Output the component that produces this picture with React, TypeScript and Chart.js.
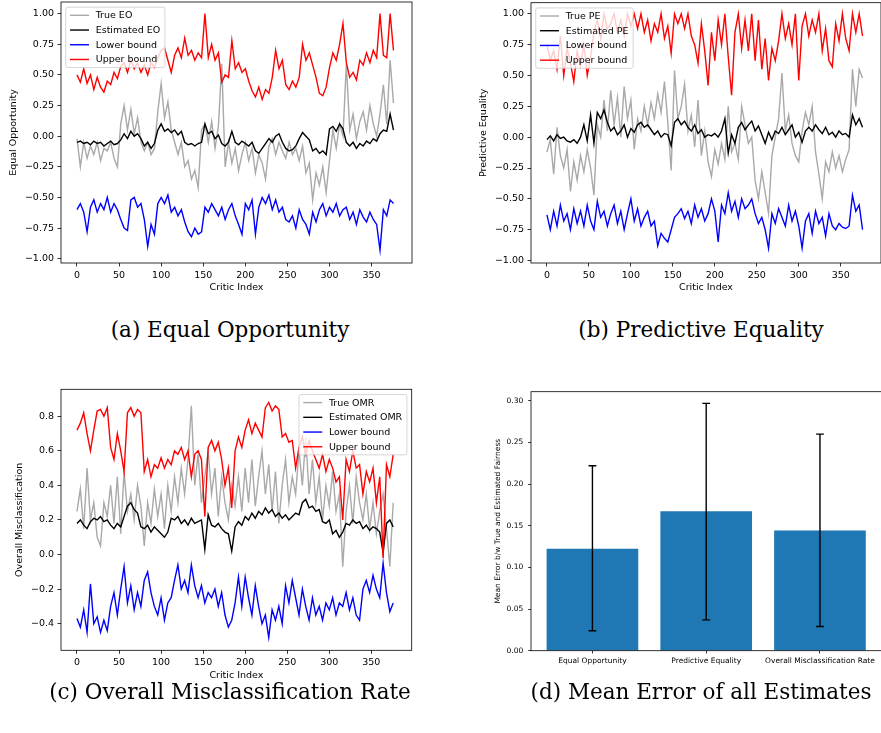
import React, { useEffect, useRef } from 'react';
import { Chart, registerables } from 'chart.js';

Chart.register(...registerables);
Chart.defaults.font.family = '"DejaVu Sans", sans-serif';

// Critic index positions (every 4th critic, 0..376)
const CRITIC_INDEX = Array.from({ length: 95 }, (_, k) => k * 4);

// ---------- (a) Equal Opportunity ----------
const EO_TRUE = [
  -0.02, -0.25, -0.05, -0.18, -0.08, -0.15, -0.05, -0.20, -0.10, -0.12,
  -0.05, -0.18, -0.25, 0.10, 0.25, 0.05, 0.22, 0.02, 0.15, -0.05,
  -0.12, -0.05, -0.15, -0.10, 0.20, 0.43, 0.15, 0.28, 0.05, -0.05,
  -0.15, -0.05, -0.25, -0.20, -0.35, -0.28, -0.42, 0.05, 0.10, -0.05,
  0.12, -0.10, 0.08, 0.59, -0.25, -0.05, -0.22, -0.10, -0.28, -0.15,
  -0.05, -0.20, -0.10, -0.30, -0.15, -0.22, -0.35, -0.08, -0.02, -0.15,
  -0.05, -0.12, -0.18, -0.05, -0.15, -0.10, -0.20, -0.08, -0.30, -0.22,
  -0.52, -0.30, -0.40, -0.25, -0.46, -0.20, 0.05, -0.10, 0.10, 0.00,
  0.59, 0.05, 0.18, -0.02, 0.12, 0.20, 0.05, 0.25, 0.10, 0.00,
  0.18, 0.42, 0.10, 0.62, 0.27,
];
const EO_EST = [
  -0.05, -0.04, -0.06, -0.05, -0.07, -0.04, -0.06, -0.05, -0.08, -0.06,
  -0.04, -0.07, -0.06, -0.03, 0.02, -0.02, 0.04, 0.00, 0.02, -0.02,
  -0.08, -0.05, -0.10, -0.06, 0.05, 0.10, 0.04, 0.06, 0.03, 0.05,
  0.01, 0.04, -0.05, -0.07, -0.06, -0.08, -0.06, -0.05, 0.10, 0.02,
  0.04, -0.02, 0.01, -0.06, -0.08, -0.05, 0.04, -0.05, -0.07, -0.04,
  -0.06, -0.08, -0.05, -0.12, -0.14, -0.10, -0.06, -0.02, -0.05, 0.00,
  0.02, -0.05, -0.10, -0.12, -0.11, -0.08, -0.02, 0.03, 0.00, -0.03,
  -0.12, -0.10, -0.14, -0.12, -0.15, 0.06, 0.08, 0.04, 0.10, 0.06,
  -0.05, -0.08, -0.05, -0.10, -0.06, -0.08, -0.04, -0.06, -0.02, -0.04,
  0.02, 0.05, 0.04, 0.18, 0.05,
];
const EO_LOWER = [
  -0.60, -0.55, -0.62, -0.78, -0.58, -0.52, -0.62, -0.55, -0.60, -0.50,
  -0.62, -0.55, -0.60, -0.68, -0.75, -0.77, -0.52, -0.50, -0.58, -0.55,
  -0.68, -0.90, -0.72, -0.80, -0.55, -0.50, -0.55, -0.48, -0.62, -0.58,
  -0.65, -0.60, -0.70, -0.78, -0.82, -0.75, -0.80, -0.78, -0.58, -0.62,
  -0.55, -0.60, -0.65, -0.58, -0.68, -0.60, -0.55, -0.65, -0.72, -0.80,
  -0.55, -0.60, -0.52, -0.80, -0.58, -0.50, -0.55, -0.48, -0.60, -0.52,
  -0.62, -0.58, -0.68, -0.70, -0.65, -0.75, -0.60, -0.68, -0.72, -0.80,
  -0.62, -0.70, -0.60, -0.55, -0.65, -0.58, -0.62, -0.55, -0.65, -0.60,
  -0.58, -0.68, -0.62, -0.72, -0.60, -0.66, -0.70, -0.62, -0.68, -0.72,
  -0.93, -0.60, -0.65, -0.52, -0.55,
];
const EO_UPPER = [
  0.50, 0.44, 0.55, 0.43, 0.50, 0.38, 0.48, 0.40, 0.36, 0.45,
  0.42, 0.52, 0.47, 0.57, 0.60, 0.52, 0.62, 0.55, 0.60, 0.52,
  0.58, 0.50, 0.60, 0.56, 0.64, 0.70, 0.72, 0.62, 0.52, 0.66,
  0.72, 0.64, 0.80, 0.66, 0.70, 0.62, 0.68, 0.64, 1.00, 0.64,
  0.75, 0.62, 0.68, 0.44, 0.50, 0.48, 0.78, 0.55, 0.60, 0.52,
  0.55, 0.45, 0.37, 0.32, 0.40, 0.30, 0.38, 0.35, 0.48, 0.70,
  0.55, 0.62, 0.42, 0.38, 0.45, 0.40, 0.48, 0.75, 0.62, 0.68,
  0.58, 0.48, 0.35, 0.33, 0.40, 0.56, 0.68, 0.62, 0.75, 0.92,
  0.60, 0.48, 0.52, 0.46, 0.62, 0.58, 0.68, 0.60, 0.70, 0.64,
  1.00, 0.66, 0.64, 1.00, 0.70,
];

// ---------- (b) Predictive Equality ----------
const PE_TRUE = [
  -0.12, -0.02, -0.30, 0.08, -0.15, -0.25, -0.10, -0.44, -0.20, -0.35,
  -0.15, -0.28, -0.10, -0.25, -0.47, 0.10, 0.00, 0.30, 0.05, 0.38,
  0.10, 0.32, 0.00, 0.41, 0.15, 0.30, -0.10, 0.15, 0.05, 0.25,
  0.10, 0.28, 0.15, 0.35, 0.20, 0.45, 0.12, -0.27, 0.54, 0.15,
  0.25, 0.43, 0.05, 0.18, -0.08, 0.30, -0.15, 0.05, -0.20, -0.32,
  -0.10, -0.22, -0.05, -0.18, 0.25, -0.12, -0.05, -0.18, 0.25, 0.10,
  -0.05, 0.00, -0.35, -0.50, -0.28, -0.45, -0.62, -0.15, 0.00, 0.15,
  0.52, 0.05, 0.18, -0.05, -0.15, -0.20, 0.05, 0.20, 0.10, 0.25,
  -0.12, -0.30, -0.50, -0.20, -0.28, -0.12, -0.25, -0.15, -0.28, -0.18,
  -0.10, 0.55, 0.25, 0.55, 0.48,
];
const PE_EST = [
  -0.02, 0.01, -0.03, 0.02, -0.01, 0.00, -0.03, -0.04, -0.02, -0.05,
  0.00, 0.10, -0.03, 0.18, -0.05, 0.20, 0.15, 0.22, 0.12, 0.05,
  0.08, 0.02, 0.05, 0.10, 0.00, 0.07, 0.04, 0.10, 0.12, 0.08,
  0.10, 0.06, 0.02, 0.05, 0.00, 0.03, 0.02, -0.07, 0.12, 0.15,
  0.10, 0.13, 0.08, 0.05, 0.10, 0.03, 0.06, 0.00, 0.02, 0.01,
  0.03, 0.00, 0.05, 0.15, -0.13, 0.02, -0.05, 0.08, 0.12, 0.06,
  0.10, 0.13, 0.05, 0.09, 0.02, -0.05, 0.04, -0.02, 0.05, 0.03,
  0.08, 0.02, 0.06, 0.10, 0.00, 0.04, -0.04, 0.05, 0.08, 0.05,
  0.10, 0.06, 0.03, 0.08, 0.02, 0.04, 0.00, 0.05, 0.02, 0.03,
  0.00, 0.18, 0.10, 0.15, 0.08,
];
const PE_LOWER = [
  -0.63, -0.75, -0.60, -0.72, -0.55, -0.68, -0.62, -0.75, -0.58, -0.70,
  -0.60, -0.72, -0.55, -0.68, -0.75, -0.52, -0.65, -0.60, -0.72, -0.62,
  -0.55, -0.70, -0.60, -0.75, -0.62, -0.50, -0.68, -0.58, -0.72, -0.65,
  -0.60, -0.72, -0.68, -0.88, -0.78, -0.82, -0.85, -0.75, -0.65, -0.62,
  -0.58, -0.66, -0.60, -0.70, -0.55, -0.65, -0.58, -0.68, -0.62, -0.50,
  -0.60, -0.85, -0.55, -0.62, -0.45, -0.60, -0.52, -0.65, -0.50, -0.58,
  -0.55, -0.50, -0.62, -0.70, -0.65, -0.75, -0.90, -0.62, -0.70, -0.58,
  -0.65, -0.72, -0.55, -0.68, -0.60, -0.72, -0.90, -0.68, -0.62, -0.78,
  -0.60, -0.70, -0.65, -0.80, -0.62, -0.72, -0.75, -0.70, -0.73, -0.74,
  -0.72, -0.47, -0.60, -0.55, -0.75,
];
const PE_UPPER = [
  0.75, 0.62, 0.70, 0.55, 0.82, 0.50, 0.72, 0.60, 0.45, 0.70,
  0.58, 0.75, 0.50, 0.65, 0.85, 0.95, 0.80, 1.00, 0.88, 0.92,
  1.00, 0.85, 0.95, 0.82, 1.00, 0.90, 1.00, 0.88, 1.00, 0.85,
  0.95, 0.78, 0.92, 0.85, 1.00, 0.80, 0.90, 0.68, 1.00, 0.92,
  1.00, 0.88, 1.00, 0.82, 0.75, 0.60, 0.92, 0.70, 0.42, 0.85,
  0.62, 0.95, 0.75, 1.00, 0.65, 0.34, 0.85, 1.00, 0.72, 0.95,
  0.70, 1.00, 0.62, 0.95, 0.55, 0.80, 0.46, 0.72, 0.62, 0.78,
  1.00, 0.80, 0.92, 0.75, 1.00, 0.46, 0.90, 1.00, 0.82, 0.95,
  0.85, 1.00, 0.70, 0.88, 0.62, 0.57, 0.92, 0.78, 1.00, 0.80,
  0.70, 1.00, 0.85, 1.00, 0.82,
];

// ---------- (c) Overall Misclassification Rate ----------
const OMR_TRUE = [
  0.25, 0.38, 0.15, 0.50, 0.20, 0.30, 0.10, 0.05, 0.30, 0.22,
  0.40, 0.18, 0.45, 0.12, 0.48, 0.25, 0.35, 0.20, 0.40, 0.28,
  0.05, 0.30, 0.18, 0.38, 0.22, 0.35, 0.15, 0.40, 0.25, 0.45,
  0.30, 0.50, 0.35, 0.55, 0.86, 0.40, 0.58, 0.30, 0.45, 0.60,
  0.35, 0.50, 0.22, 0.45, 0.30, 0.20, 0.40, 0.28, 0.45, 0.25,
  0.50, 0.30, 0.55, 0.28, 0.45, 0.60, 0.35, 0.52, 0.25, 0.48,
  0.18, 0.40, 0.55, 0.30, 0.45, 0.35, 0.60, 0.40, 0.68, 0.35,
  0.55, 0.30, 0.45, 0.20, 0.40, 0.28, 0.48, 0.25, 0.35, -0.07,
  0.25, 0.40, 0.18, 0.45, 0.30, 0.20, 0.35, 0.15, 0.30, 0.12,
  0.25, 0.35, 0.15, -0.07, 0.30,
];
const OMR_EST = [
  0.18, 0.20, 0.17, 0.15, 0.19, 0.21, 0.20, 0.22, 0.19, 0.20,
  0.17, 0.15, 0.18, 0.16, 0.22, 0.28, 0.30, 0.26, 0.24, 0.16,
  0.15, 0.17, 0.13, 0.16, 0.14, 0.12, 0.10, 0.13, 0.21, 0.20,
  0.22, 0.18, 0.20, 0.17, 0.21, 0.18, 0.19, 0.20, 0.03, 0.23,
  0.17, 0.16, 0.18, 0.15, 0.13, 0.12, 0.02, 0.16, 0.19, 0.17,
  0.22, 0.20, 0.24, 0.21, 0.25, 0.23, 0.27, 0.24, 0.26, 0.22,
  0.24, 0.21, 0.23, 0.20, 0.22, 0.24, 0.23, 0.30, 0.32, 0.27,
  0.28, 0.25, 0.26, 0.19, 0.18, 0.20, 0.12, 0.14, 0.10, 0.13,
  0.18, 0.17, 0.20, 0.18, 0.19, 0.15, 0.17, 0.14, 0.16, 0.15,
  0.13, 0.01, 0.18, 0.20, 0.16,
];
const OMR_LOWER = [
  -0.37, -0.42, -0.32, -0.45, -0.17, -0.40, -0.36, -0.45, -0.38, -0.44,
  -0.30, -0.22, -0.35, -0.20, -0.07, -0.28, -0.18, -0.32, -0.22, -0.30,
  -0.15, -0.10, -0.22, -0.30, -0.35, -0.25, -0.38, -0.28, -0.25, -0.15,
  -0.06, -0.20, -0.15, -0.22, -0.06, -0.18, -0.25, -0.18, -0.28, -0.22,
  -0.25, -0.20, -0.30, -0.22, -0.35, -0.42, -0.38, -0.28, -0.13, -0.30,
  -0.13, -0.25, -0.35, -0.18, -0.30, -0.40, -0.35, -0.48, -0.32, -0.38,
  -0.30, -0.40, -0.18, -0.28, -0.15, -0.25, -0.35, -0.20, -0.30, -0.38,
  -0.25, -0.35, -0.30, -0.38, -0.28, -0.32, -0.25, -0.35, -0.28, -0.30,
  -0.22, -0.32, -0.25, -0.35, -0.38, -0.20, -0.15, -0.22, -0.12, -0.20,
  -0.25, -0.05, -0.22, -0.33, -0.28,
];
const OMR_UPPER = [
  0.72, 0.76, 0.82, 0.70, 0.60, 0.72, 0.83, 0.84, 0.80, 0.85,
  0.62, 0.55, 0.70, 0.60, 0.48, 0.82, 0.85, 0.80, 0.84, 0.82,
  0.48, 0.55, 0.45, 0.52, 0.50, 0.56, 0.50, 0.55, 0.52, 0.60,
  0.58, 0.62, 0.55, 0.60, 0.45, 0.58, 0.60, 0.55, 0.22, 0.62,
  0.66, 0.60, 0.65, 0.55, 0.40, 0.50, 0.27, 0.60, 0.68, 0.62,
  0.72, 0.78, 0.70, 0.76, 0.72, 0.68, 0.85, 0.88, 0.83, 0.86,
  0.84, 0.68, 0.70, 0.65, 0.66, 0.50, 0.62, 0.68, 0.58, 0.66,
  0.60, 0.55, 0.50, 0.58, 0.48, 0.55, 0.50, 0.42, 0.45, 0.20,
  0.55, 0.48, 0.60, 0.50, 0.52, 0.35, 0.48, 0.42, 0.50, 0.30,
  0.45, -0.02, 0.52, 0.45, 0.58,
];

// ---------- (d) Mean error of all estimates ----------
const BAR_CATEGORIES = ['Equal Opportunity', 'Predictive Equality', 'Overall Misclassification Rate'];
const BAR_MEANS = [0.122, 0.167, 0.144];
const BAR_ERR_LOW = [0.024, 0.037, 0.029];
const BAR_ERR_HIGH = [0.222, 0.297, 0.26];

// ---------- ticks ----------
const X_TICKS = [0, 50, 100, 150, 200, 250, 300, 350];
const Y_TICKS_AB = [-1, -0.75, -0.5, -0.25, 0, 0.25, 0.5, 0.75, 1];
const Y_TICKS_C = [-0.4, -0.2, 0, 0.2, 0.4, 0.6, 0.8];
const Y_TICKS_D = [0, 0.05, 0.1, 0.15, 0.2, 0.25, 0.3];

const C_TRUE = '#a9a9a9';
const C_EST = '#000000';
const C_LO = '#0000ff';
const C_HI = '#ff0000';
const FS = 9.5;

const fmt = (v: number, d: number) => (v < -1e-9 ? '\u2212' : '') + Math.abs(v).toFixed(d);

const framePlugin = {
  id: 'frame',
  afterDatasetsDraw(chart: any) {
    const { ctx, chartArea: a } = chart;
    ctx.save();
    ctx.strokeStyle = '#000';
    ctx.lineWidth = 0.8;
    ctx.strokeRect(a.left, a.top, a.right - a.left, a.bottom - a.top);
    ctx.restore();
  },
};

const legendPlugin = {
  id: 'mplLegend',
  afterDraw(chart: any, _args: any, opts: any) {
    if (!opts || !opts.items) return;
    const { ctx, chartArea } = chart;
    const fs = opts.fontSize;
    const items = opts.items as { label: string; color: string }[];
    ctx.save();
    ctx.font = `${fs}px "DejaVu Sans"`;
    const tw = Math.max(...items.map((it) => ctx.measureText(it.label).width));
    const padL = 0.45 * fs;
    const handle = 2 * fs;
    const gap = 0.7 * fs;
    const pitch = 1.55 * fs;
    const w = padL + handle + gap + tw + 0.5 * fs;
    const h = 1.7 * fs + (items.length - 1) * pitch;
    const x = opts.corner === 'right' ? chartArea.right - 0.5 * fs - w : chartArea.left + 0.5 * fs;
    const y = chartArea.top + 0.55 * fs;
    const r = 2;
    ctx.beginPath();
    ctx.moveTo(x + r, y);
    ctx.lineTo(x + w - r, y);
    ctx.quadraticCurveTo(x + w, y, x + w, y + r);
    ctx.lineTo(x + w, y + h - r);
    ctx.quadraticCurveTo(x + w, y + h, x + w - r, y + h);
    ctx.lineTo(x + r, y + h);
    ctx.quadraticCurveTo(x, y + h, x, y + h - r);
    ctx.lineTo(x, y + r);
    ctx.quadraticCurveTo(x, y, x + r, y);
    ctx.closePath();
    ctx.fillStyle = 'rgba(255,255,255,0.8)';
    ctx.fill();
    ctx.strokeStyle = '#cccccc';
    ctx.lineWidth = 0.8;
    ctx.stroke();
    ctx.textBaseline = 'middle';
    ctx.textAlign = 'left';
    items.forEach((it, i) => {
      const cy = y + 0.85 * fs + i * pitch;
      ctx.beginPath();
      ctx.strokeStyle = it.color;
      ctx.lineWidth = 1.4;
      ctx.moveTo(x + padL, cy);
      ctx.lineTo(x + padL + handle, cy);
      ctx.stroke();
      ctx.fillStyle = '#000';
      ctx.fillText(it.label, x + padL + handle + gap, cy + 0.5);
    });
    ctx.restore();
  },
};

const errorBarPlugin = {
  id: 'errBars',
  afterDatasetsDraw(chart: any) {
    const { ctx, scales } = chart;
    ctx.save();
    ctx.strokeStyle = '#000';
    ctx.lineWidth = 1.4;
    BAR_MEANS.forEach((_, i) => {
      const x = scales.x.getPixelForValue(i);
      const y1 = scales.y.getPixelForValue(BAR_ERR_LOW[i]);
      const y2 = scales.y.getPixelForValue(BAR_ERR_HIGH[i]);
      ctx.beginPath();
      ctx.moveTo(x, y1);
      ctx.lineTo(x, y2);
      ctx.moveTo(x - 3.9, y1);
      ctx.lineTo(x + 3.9, y1);
      ctx.moveTo(x - 3.9, y2);
      ctx.lineTo(x + 3.9, y2);
      ctx.stroke();
    });
    ctx.restore();
  },
};

const tickGrid = (len: number) => ({
  drawOnChartArea: false,
  drawTicks: true,
  tickLength: len,
  tickWidth: 0.8,
  color: '#000',
  offset: false,
});

type LinePanelSpec = {
  trueS: number[];
  estS: number[];
  lo: number[];
  hi: number[];
  trueLabel: string;
  estLabel: string;
  yTitle: string;
  yMin: number;
  yMax: number;
  yTicks: number[];
  yDec: number;
  corner: 'left' | 'right';
  padding: { top: number; right: number; bottom: number; left: number };
  yTitlePad: number;
};

function lineConfig(p: LinePanelSpec): any {
  const mk = (arr: number[], color: string, label: string, order: number) => ({
    label,
    data: CRITIC_INDEX.map((x, k) => ({ x, y: arr[k] })),
    borderColor: color,
    backgroundColor: color,
    borderWidth: 1.4,
    pointRadius: 0,
    tension: 0,
    fill: false,
    order,
  });
  return {
    type: 'line',
    data: {
      datasets: [
        mk(p.trueS, C_TRUE, p.trueLabel, 3),
        mk(p.estS, C_EST, p.estLabel, 2),
        mk(p.lo, C_LO, 'Lower bound', 1),
        mk(p.hi, C_HI, 'Upper bound', 0),
      ],
    },
    options: {
      animation: false,
      responsive: false,
      maintainAspectRatio: false,
      layout: { padding: p.padding },
      plugins: {
        legend: { display: false },
        tooltip: { enabled: false },
        mplLegend: {
          corner: p.corner,
          fontSize: FS,
          items: [
            { label: p.trueLabel, color: C_TRUE },
            { label: p.estLabel, color: C_EST },
            { label: 'Lower bound', color: C_LO },
            { label: 'Upper bound', color: C_HI },
          ],
        },
      },
      scales: {
        x: {
          type: 'linear',
          min: -19,
          max: 398,
          afterBuildTicks: (s: any) => {
            s.ticks = X_TICKS.map((v) => ({ value: v }));
          },
          afterFit: (s: any) => {
            s.height = 37;
            s.paddingLeft = 0;
            s.paddingRight = 0;
          },
          ticks: {
            autoSkip: false,
            maxRotation: 0,
            padding: 3.5,
            color: '#000',
            font: { size: FS },
            callback: (v: any) => String(v),
          },
          grid: tickGrid(3.5),
          border: { display: false },
          title: {
            display: true,
            text: 'Critic Index',
            color: '#000',
            font: { size: FS },
            padding: { top: 0, bottom: 6.3 },
          },
        },
        y: {
          type: 'linear',
          min: p.yMin,
          max: p.yMax,
          afterBuildTicks: (s: any) => {
            s.ticks = p.yTicks.map((v) => ({ value: v }));
          },
          afterFit: (s: any) => {
            s.width = 61;
            s.paddingTop = 0;
            s.paddingBottom = 0;
          },
          ticks: {
            autoSkip: false,
            padding: 3.5,
            color: '#000',
            font: { size: FS },
            callback: (v: any) => fmt(Number(v), p.yDec),
          },
          grid: tickGrid(3.5),
          border: { display: false },
          title: {
            display: true,
            text: p.yTitle,
            color: '#000',
            font: { size: FS },
            padding: { top: p.yTitlePad, bottom: 0 },
          },
        },
      },
    },
    plugins: [framePlugin, legendPlugin],
  };
}

function barConfig(): any {
  return {
    type: 'bar',
    data: {
      datasets: [
        {
          data: BAR_MEANS.map((m, i) => ({ x: i, y: m })),
          backgroundColor: '#1f77b4',
          borderWidth: 0,
          barThickness: 91,
        },
      ],
    },
    options: {
      animation: false,
      responsive: false,
      maintainAspectRatio: false,
      layout: { padding: { top: 21.7, right: 18.6, bottom: 0, left: 0 } },
      plugins: { legend: { display: false }, tooltip: { enabled: false } },
      scales: {
        x: {
          type: 'linear',
          min: -0.54,
          max: 2.54,
          offset: false,
          afterBuildTicks: (s: any) => {
            s.ticks = [0, 1, 2].map((v) => ({ value: v }));
          },
          afterFit: (s: any) => {
            s.height = 19.3;
            s.paddingLeft = 0;
            s.paddingRight = 0;
          },
          ticks: {
            autoSkip: false,
            maxRotation: 0,
            padding: 2.8,
            color: '#000',
            font: { size: 7.5 },
            callback: (v: any) => BAR_CATEGORIES[Number(v)] ?? '',
          },
          grid: tickGrid(2.8),
          border: { display: false },
        },
        y: {
          type: 'linear',
          min: 0,
          max: 0.311,
          afterBuildTicks: (s: any) => {
            s.ticks = Y_TICKS_D.map((v) => ({ value: v }));
          },
          afterFit: (s: any) => {
            s.width = 61;
            s.paddingTop = 0;
            s.paddingBottom = 0;
          },
          ticks: {
            autoSkip: false,
            padding: 4.9,
            color: '#000',
            font: { size: 7.5 },
            callback: (v: any) => fmt(Number(v), 2),
          },
          grid: tickGrid(2.8),
          border: { display: false },
          title: {
            display: true,
            text: 'Mean Error b/w True and Estimated Fairness',
            color: '#000',
            font: { size: 7.5 },
            padding: { top: 23.8, bottom: 0 },
          },
        },
      },
    },
    plugins: [framePlugin, errorBarPlugin],
  };
}

function ChartBox(props: { left: number; top: number; width: number; height: number; make: () => any }) {
  const ref = useRef<HTMLCanvasElement>(null);
  useEffect(() => {
    const chart = new Chart(ref.current as HTMLCanvasElement, props.make());
    return () => chart.destroy();
  }, []);
  return (
    <canvas
      ref={ref}
      width={props.width}
      height={props.height}
      style={{ position: 'absolute', left: props.left, top: props.top, width: props.width, height: props.height }}
    />
  );
}

const captionStyle = (left: number, top: number): React.CSSProperties => ({
  position: 'absolute',
  left,
  top,
  width: 460,
  textAlign: 'center',
  fontFamily: '"DejaVu Serif", serif',
  fontSize: 21.5,
  lineHeight: '21.5px',
  whiteSpace: 'nowrap',
  color: '#000',
});

export default function App() {
  return (
    <div
      style={{
        position: 'fixed',
        left: 0,
        top: 0,
        width: 881,
        height: 733,
        overflow: 'hidden',
        background: '#fff',
      }}
    >
      <ChartBox
        left={0}
        top={0}
        width={430}
        height={300}
        make={() =>
          lineConfig({
            trueS: EO_TRUE,
            estS: EO_EST,
            lo: EO_LOWER,
            hi: EO_UPPER,
            trueLabel: 'True EO',
            estLabel: 'Estimated EO',
            yTitle: 'Equal Opportunity',
            yMin: -1.035,
            yMax: 1.095,
            yTicks: Y_TICKS_AB,
            yDec: 2,
            corner: 'left',
            padding: { top: 2, right: 18, bottom: 0, left: 0 },
            yTitlePad: 8.3,
          })
        }
      />
      <ChartBox
        left={470}
        top={0}
        width={430}
        height={300}
        make={() =>
          lineConfig({
            trueS: PE_TRUE,
            estS: PE_EST,
            lo: PE_LOWER,
            hi: PE_UPPER,
            trueLabel: 'True PE',
            estLabel: 'Estimated PE',
            yTitle: 'Predictive Equality',
            yMin: -1.02,
            yMax: 1.09,
            yTicks: Y_TICKS_AB,
            yDec: 2,
            corner: 'left',
            padding: { top: 2.7, right: 19, bottom: 0, left: 0 },
            yTitlePad: 7.6,
          })
        }
      />
      <ChartBox
        left={0}
        top={370}
        width={430}
        height={320}
        make={() =>
          lineConfig({
            trueS: OMR_TRUE,
            estS: OMR_EST,
            lo: OMR_LOWER,
            hi: OMR_UPPER,
            trueLabel: 'True OMR',
            estLabel: 'Estimated OMR',
            yTitle: 'Overall Misclassification',
            yMin: -0.554,
            yMax: 0.956,
            yTicks: Y_TICKS_C,
            yDec: 1,
            corner: 'right',
            padding: { top: 19.3, right: 18.3, bottom: 2.7, left: 0 },
            yTitlePad: 14.3,
          })
        }
      />
      <ChartBox left={470} top={370} width={430} height={300} make={barConfig} />
      <div style={captionStyle(0, 318.8)}>(a) Equal Opportunity</div>
      <div style={captionStyle(471, 318.8)}>(b) Predictive Equality</div>
      <div style={captionStyle(0, 680.8)}>(c) Overall Misclassification Rate</div>
      <div style={captionStyle(471, 680.8)}>(d) Mean Error of all Estimates</div>
    </div>
  );
}
